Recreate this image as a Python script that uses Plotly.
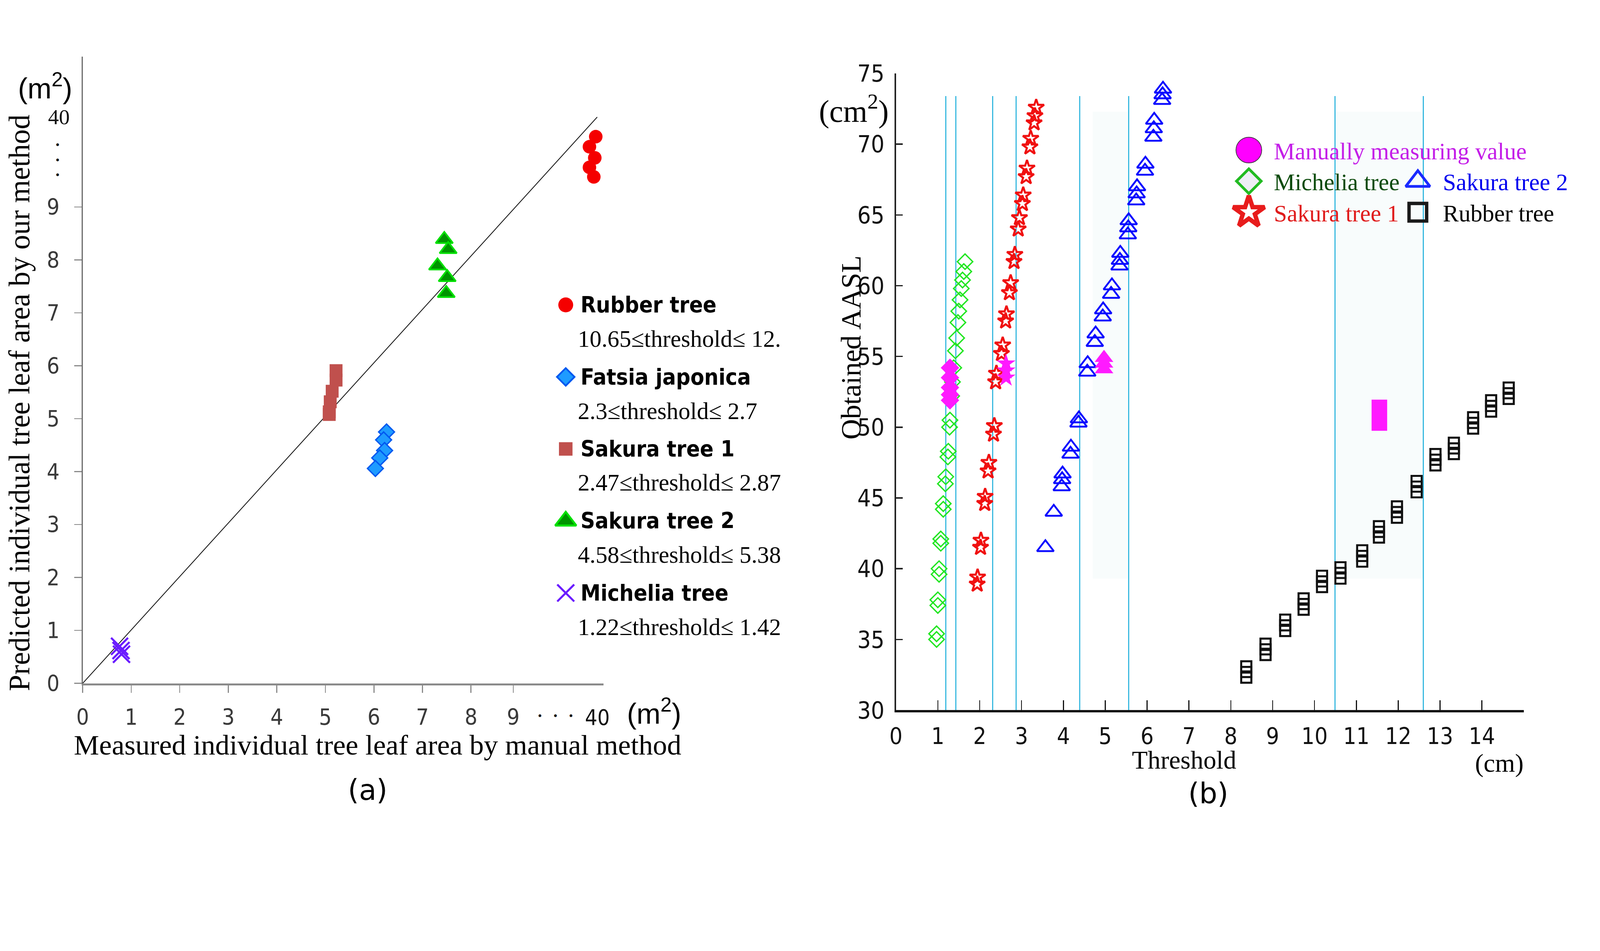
import plotly.graph_objects as go

W, H = 4724, 2435
SERIF = "Liberation Serif, Times New Roman, serif"
SANS = "Liberation Sans, Arial, sans-serif"
NARROW = "Liberation Sans Narrow, DejaVu Sans Condensed, Liberation Sans, sans-serif"
ROUND = "DejaVu Sans, Verdana, sans-serif"


def px(x):
    return x / W


def py(y):
    return 1 - y / H


# ---------------- (a) measured vs predicted leaf area ----------------
# values sit on the broken axes: 0..9 linear, then "40" at the far end
rubber_a_x = [10.57, 10.44, 10.55, 10.44, 10.53]
rubber_a_y = [10.33, 10.14, 9.93, 9.75, 9.57]
fatsia_x = [6.26, 6.20, 6.22, 6.12, 6.03]
fatsia_y = [4.75, 4.60, 4.40, 4.26, 4.06]
sakura1_a_x = [5.22, 5.22, 5.14, 5.10, 5.08, 5.08]
sakura1_a_y = [5.91, 5.73, 5.52, 5.32, 5.13, 5.08]
sakura2_a_x = [7.45, 7.53, 7.31, 7.51, 7.49]
sakura2_a_y = [8.39, 8.20, 7.89, 7.67, 7.37]
michelia_a_x = [0.76, 0.79, 0.80]
michelia_a_y = [0.70, 0.62, 0.55]

x_ticks_a = [0, 1, 2, 3, 4, 5, 6, 7, 8, 8.87]
x_labels_a = ["0", "1", "2", "3", "4", "5", "6", "7", "8", "9"]
y_ticks_a = [0, 1, 2, 3, 4, 5, 6, 7, 8, 9]
y_labels_a = ["0", "1", "2", "3", "4", "5", "6", "7", "8", "9"]
x40_a, y40_a = 10.60, 10.70          # where "40" sits on each broken axis
x_dots_a = 9.74                      # centre of the "· · ·" gap marks
y_dots_a = 9.89

key_a_names = ["Rubber tree", "Fatsia japonica", "Sakura tree 1", "Sakura tree 2", "Michelia tree"]
key_a_ranges = ["10.65≤threshold≤ 12.", "2.3≤threshold≤ 2.7", "2.47≤threshold≤ 2.87",
                "4.58≤threshold≤ 5.38", "1.22≤threshold≤ 1.42"]

# ---------------- (b) obtained AASL vs threshold ----------------
michelia_b_x = [0.97, 0.97, 1.00, 1.00, 1.03, 1.03, 1.07, 1.07, 1.13, 1.13, 1.18, 1.19, 1.24, 1.25,
                1.28, 1.29, 1.33, 1.35, 1.38, 1.42, 1.45, 1.48, 1.50, 1.53, 1.56, 1.59, 1.62, 1.65]
michelia_b_y = [35.0, 35.4, 37.4, 37.8, 39.6, 40.0, 41.8, 42.1, 44.2, 44.6, 46.0, 46.5, 47.9, 48.3,
                50.0, 50.5, 52.2, 53.2, 54.2, 55.4, 56.3, 57.4, 58.2, 59.0, 59.8, 60.4, 61.0, 61.7]
sakura1_b_x = [1.94, 1.95, 2.02, 2.03, 2.12, 2.13, 2.20, 2.22, 2.33, 2.35, 2.38, 2.40, 2.52, 2.55,
               2.62, 2.64, 2.71, 2.74, 2.82, 2.84, 2.92, 2.95, 3.02, 3.04, 3.11, 3.13, 3.20, 3.22,
               3.30, 3.32, 3.35]
sakura1_b_y = [38.9, 39.4, 41.5, 42.0, 44.6, 45.1, 46.9, 47.5, 49.5, 50.1, 53.2, 53.8, 55.2, 55.8,
               57.5, 58.0, 59.5, 60.2, 61.7, 62.2, 64.0, 64.8, 65.8, 66.4, 67.7, 68.3, 69.8, 70.4,
               71.5, 72.0, 72.6]
sakura2_b_x = [3.57, 3.77, 3.96, 3.97, 3.98, 4.17, 4.18, 4.36, 4.37, 4.57, 4.58, 4.75, 4.77, 4.94,
               4.95, 5.14, 5.16, 5.34, 5.35, 5.36, 5.54, 5.55, 5.56, 5.74, 5.75, 5.76, 5.95, 5.96,
               6.15, 6.16, 6.17, 6.36, 6.37, 6.38]
sakura2_b_y = [41.5, 44.0, 45.8, 46.3, 46.7, 48.1, 48.6, 50.3, 50.6, 53.9, 54.5, 56.0, 56.6, 57.8,
               58.3, 59.4, 60.0, 61.4, 61.8, 62.3, 63.6, 64.1, 64.6, 66.0, 66.5, 67.0, 68.1, 68.6,
               70.5, 71.1, 71.7, 73.1, 73.5, 73.9]
rubber_b_x = [8.37, 8.37, 8.37, 8.83, 8.83, 8.83, 9.30, 9.30, 9.30, 9.74, 9.74, 9.74,
              10.18, 10.18, 10.18, 10.62, 10.62, 10.62, 11.14, 11.14, 11.14, 11.54, 11.54, 11.54,
              11.97, 11.97, 11.97, 12.44, 12.44, 12.44, 12.89, 12.89, 12.89, 13.33, 13.33, 13.33,
              13.79, 13.79, 13.79, 14.22, 14.22, 14.22, 14.64, 14.64, 14.64]
rubber_b_y = [32.3, 32.7, 33.1, 33.9, 34.3, 34.7, 35.6, 36.0, 36.4, 37.1, 37.5, 37.9,
              38.7, 39.1, 39.5, 39.3, 39.7, 40.1, 40.5, 40.9, 41.3, 42.2, 42.6, 43.0,
              43.6, 44.0, 44.4, 45.4, 45.8, 46.2, 47.3, 47.7, 48.1, 48.1, 48.5, 48.9,
              49.9, 50.3, 50.7, 51.1, 51.5, 51.9, 52.0, 52.4, 52.8]

manual_mich_x = [1.29, 1.29, 1.29, 1.29, 1.29]
manual_mich_y = [54.2, 53.5, 52.8, 52.3, 51.9]
manual_sak1_x = [2.63, 2.63, 2.63]
manual_sak1_y = [54.5, 54.0, 53.5]
manual_sak2_x = [4.97, 4.97, 4.97]
manual_sak2_y = [54.9, 54.5, 54.1]
manual_rub_x = [11.55, 11.55]
manual_rub_y = [51.4, 50.3]

threshold_lines = [1.19, 1.43, 2.31, 2.87, 4.39, 5.56, 10.49, 12.60]
shaded_spans = [(4.70, 5.56), (10.49, 12.60)]
x_ticks_b = list(range(15))
y_ticks_b = [30, 35, 40, 45, 50, 55, 60, 65, 70, 75]

key_b_names = ["Manually measuring value", "Michelia tree", "Sakura tree 2", "Sakura tree 1", "Rubber tree"]
key_b_col = [0, 0, 1, 0, 1]
key_b_row = [0, 1, 1, 2, 2]

fig = go.Figure()


def dots(x, y, xa, ya, symbol, size, color, line_color=None, line_width=0):
    fig.add_trace(go.Scatter(
        x=x, y=y, xaxis=xa, yaxis=ya, mode="markers", cliponaxis=False,
        hoverinfo="skip", showlegend=False,
        marker=dict(symbol=symbol, size=size, color=color,
                    line=dict(color=line_color or color, width=line_width))))


# panel (a)
fig.add_trace(go.Scatter(x=[0, x40_a], y=[0, y40_a], xaxis="x", yaxis="y", mode="lines",
                         line=dict(color="#1a1a1a", width=2.5), hoverinfo="skip", showlegend=False))
dots(rubber_a_x, rubber_a_y, "x", "y", "circle", 40, "#f50000")
dots(sakura2_a_x, sakura2_a_y, "x", "y", "triangle-up", 44, "#009400", "#00e000", 5)
dots(sakura1_a_x, sakura1_a_y, "x", "y", "square", 38, "#c0504d")
dots(fatsia_x, fatsia_y, "x", "y", "diamond", 36, "#1e9bff", "#0058f0", 4)
dots(michelia_a_x, michelia_a_y, "x", "y", "x-thin", 50, "#6a1cff", "#6a1cff", 6)

# panel (a) key
key_a_style = [("circle", 44, "#f50000", None, 0),
               ("diamond", 40, "#1e9bff", "#0058f0", 5),
               ("square", 40, "#c0504d", None, 0),
               ("triangle-up", 54, "#009400", "#00e000", 6),
               ("x-thin", 50, "#6a1cff", "#6a1cff", 6)]
for i, (sym, sz, col, lc, lw) in enumerate(key_a_style):
    dots([0], [i], "x3", "y3", sym, sz, col, lc, lw)

# broken-axis labels of (a): gap dots and the far "40"
fig.add_annotation(x=x_dots_a, y=py(2146), xref="x", yref="paper", text="•    •    •",
                   showarrow=False, xanchor="center", yanchor="middle",
                   font=dict(family=SERIF, size=34, color="#111111"))
fig.add_annotation(x=x40_a, y=py(2150), xref="x", yref="paper", text="40", showarrow=False,
                   xanchor="center", yanchor="middle", font=dict(family=NARROW, size=64, color="#111111"))
fig.add_annotation(x=px(152), y=y_dots_a, xref="paper", yref="y", text="•<br>•<br>•",
                   showarrow=False, xanchor="center", yanchor="middle",
                   font=dict(family=SERIF, size=34, color="#111111"))
fig.add_annotation(x=px(156), y=y40_a, xref="paper", yref="y", text="40", showarrow=False,
                   xanchor="center", yanchor="middle", font=dict(family=SERIF, size=64, color="#111111"))

# panel (b)
for x0, x1 in shaded_spans:
    fig.add_shape(type="rect", xref="x2", yref="y2", x0=x0, x1=x1, y0=39.3, y1=72.3,
                  fillcolor="#f8fcfc", line_width=0, layer="below")
for v in threshold_lines:
    fig.add_shape(type="line", xref="x2", yref="y2", x0=v, x1=v, y0=30, y1=73.4,
                  line=dict(color="#1fb0dc", width=3), layer="below")

dots(michelia_b_x, michelia_b_y, "x2", "y2", "diamond-open", 35, "#22e622", None, 4)
dots(sakura1_b_x, sakura1_b_y, "x2", "y2", "star-open", 35, "#f01010", None, 6)
dots(sakura2_b_x, sakura2_b_y, "x2", "y2", "triangle-up-open", 43, "#0a0aff", None, 5.5)
dots(rubber_b_x, rubber_b_y, "x2", "y2", "square-open", 30, "#111111", None, 6)
dots(manual_mich_x, manual_mich_y, "x2", "y2", "diamond", 42, "#ff1aff")
dots(manual_sak1_x, manual_sak1_y, "x2", "y2", "star", 42, "#ff1aff")
dots(manual_sak2_x, manual_sak2_y, "x2", "y2", "triangle-up", 48, "#ff1aff")
dots(manual_rub_x, manual_rub_y, "x2", "y2", "square", 46, "#ff1aff")

# panel (b) key
key_b_style = [("circle", 76, "#ff00ff", "#333333", 2),
               ("diamond", 56, "#eeeef6", "#22bb22", 8),
               ("triangle-up-open", 62, "#1a2aff", None, 8),
               ("star-open", 70, "#e81c1c", None, 13),
               ("square-open", 52, "#1a1a1a", None, 10)]
key_b_colors = ["#c41ee8", "#0a4a0a", "#0000ee", "#e01b1b", "#000000"]
for name, c, r, (sym, sz, col, lc, lw), tc in zip(key_b_names, key_b_col, key_b_row,
                                                   key_b_style, key_b_colors):
    dots([c], [r], "x4", "y4", sym, sz, col, lc, lw)
    fig.add_annotation(x=c, y=r, xref="x4", yref="y4", text=name, showarrow=False,
                       xanchor="left", yanchor="middle", xshift=72, yshift=-4,
                       font=dict(family=SERIF, size=70, color=tc))

for i, (name, rng) in enumerate(zip(key_a_names, key_a_ranges)):
    fig.add_annotation(x=0, y=i, xref="x3", yref="y3", text="<b>%s</b>" % name, showarrow=False,
                       xanchor="left", yanchor="middle", xshift=42,
                       font=dict(family=NARROW, size=66, color="#000000"))
    fig.add_annotation(x=0, y=i, xref="x3", yref="y3", text=rng, showarrow=False,
                       xanchor="left", yanchor="middle", xshift=34, yshift=-100,
                       font=dict(family=SERIF, size=70, color="#000000"))

# free text
texts = [
    ("(m<sup>2</sup>)", 115, 222, SANS, 85, 0),
    ("(m<sup>2</sup>)", 1920, 2132, SANS, 85, 0),
    ("Measured individual tree leaf area by manual method", 1100, 2234, SERIF, 84, 0),
    ("Predicted individual tree leaf area by our method", 38, 1189, SERIF, 87, -90),
    ("(a)", 1071, 2372, ROUND, 84, 0),
    ("(b)", 3563, 2382, ROUND, 84, 0),
    ("(cm<sup>2</sup>)", 2512, 292, SERIF, 92, 0),
    ("Obtained AASL", 2503, 1020, SERIF, 84, -90),
    ("Threshold", 3491, 2280, SERIF, 76, 0),
    ("(cm)", 4425, 2290, SERIF, 76, 0),
]
for t, x, y, fam, sz, ang in texts:
    fig.add_annotation(x=px(x), y=py(y), xref="paper", yref="paper", text=t, showarrow=False,
                       xanchor="center", yanchor="middle", textangle=ang,
                       font=dict(family=fam, size=sz, color="#000000"))

grey = "#8a8a8a"
ax_a = dict(showgrid=False, zeroline=False, showline=True)
fig.update_layout(
    width=W, height=H, margin=dict(l=0, r=0, t=0, b=0),
    paper_bgcolor="white", plot_bgcolor="rgba(0,0,0,0)", showlegend=False,
    xaxis=dict(domain=[px(226), px(1770)], range=[0, 10.73], anchor="y", **ax_a,
               linecolor=grey, linewidth=6, ticks="outside", ticklen=22, tickwidth=3,
               tickcolor=grey, tickvals=x_ticks_a, ticktext=x_labels_a, ticklabelstandoff=16,
               tickfont=dict(family=NARROW, size=66, color="#3a3a3a")),
    yaxis=dict(domain=[py(2046), py(132)], range=[0, 11.84], anchor="x", **ax_a,
               linecolor="#6a6a6a", linewidth=3, ticks="outside", ticklen=22, tickwidth=3,
               tickcolor=grey, tickvals=y_ticks_a, ticktext=y_labels_a, ticklabelstandoff=30,
               tickfont=dict(family=NARROW, size=66, color="#3a3a3a")),
    xaxis2=dict(domain=[px(2637), px(4498)], range=[0, 15], anchor="y2", showgrid=False,
                zeroline=False, showline=True, linecolor="#111111", linewidth=6,
                ticks="inside", ticklen=29, tickwidth=3, tickcolor="#111111",
                tickvals=x_ticks_b, ticklabelstandoff=12,
                tickfont=dict(family=NARROW, size=68, color="#111111")),
    yaxis2=dict(domain=[py(2128), py(183)], range=[30, 75], anchor="x2", showgrid=False,
                zeroline=False, showline=True, linecolor="#222222", linewidth=4,
                ticks="inside", ticklen=20, tickwidth=4, tickcolor="#222222",
                tickvals=y_ticks_b, ticklabelstandoff=16,
                tickfont=dict(family=NARROW, size=70, color="#111111")),
    xaxis3=dict(domain=[px(1658), px(2358)], range=[0, 1], anchor="y3", visible=False),
    yaxis3=dict(domain=[py(1880), py(780)], range=[4.5, -0.5], anchor="x3", visible=False),
    xaxis4=dict(domain=[px(3683), px(4184)], range=[0, 1], anchor="y4", visible=False),
    yaxis4=dict(domain=[py(654.5), py(369.5)], range=[2.5, -0.5], anchor="x4", visible=False),
)

# fit the fixed-size figure into whatever viewport the page is opened in
fit_js = ("document.body.style.margin = '0';"
          "var s = Math.min(window.innerWidth / %d, window.innerHeight / %d);"
          "if (Math.abs(s - 1) > 0.005) { document.body.style.zoom = s; }" % (W, H))
fig.write_html("out.html", post_script=fit_js, config={"displayModeBar": False})
